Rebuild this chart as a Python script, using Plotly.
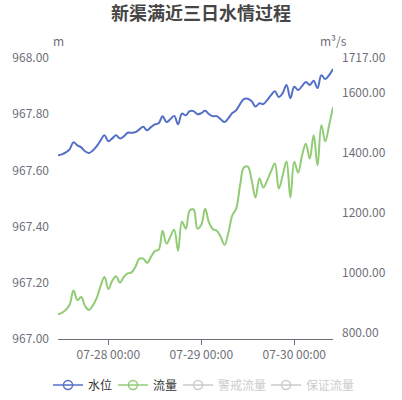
import pandas as pd
import plotly.graph_objects as go

# hourly readings, 07-27 11:00 .. 07-30 10:00
times = pd.date_range("2024-07-27 11:00", periods=72, freq="h")

water_level = [
    967.654, 967.657, 967.664, 967.675, 967.700, 967.689, 967.682, 967.668,
    967.662, 967.671, 967.686, 967.707, 967.725, 967.704, 967.714, 967.725,
    967.714, 967.721, 967.734, 967.734, 967.736, 967.746, 967.755, 967.743,
    967.754, 967.764, 967.768, 967.793, 967.772, 967.782, 967.794, 967.764,
    967.802, 967.796, 967.811, 967.811, 967.800, 967.804, 967.812, 967.800,
    967.793, 967.793, 967.782, 967.772, 967.786, 967.804, 967.814, 967.836,
    967.854, 967.855, 967.846, 967.827, 967.839, 967.836, 967.850, 967.868,
    967.882, 967.861, 967.875, 967.904, 967.857, 967.898, 967.886, 967.900,
    967.915, 967.904, 967.919, 967.893, 967.939, 967.925, 967.939, 967.961,
]

flow = [
    862, 867, 877, 894, 942, 910, 920, 890,
    877, 892, 917, 957, 987, 947, 974, 989,
    968, 987, 999, 1002, 1021, 1048, 1048, 1034,
    1054, 1073, 1078, 1141, 1098, 1121, 1144, 1074,
    1171, 1148, 1208, 1212, 1148, 1161, 1214, 1168,
    1146, 1141, 1121, 1094, 1135, 1192, 1215, 1292,
    1352, 1355, 1309, 1252, 1315, 1285, 1309, 1339,
    1365, 1282, 1325, 1372, 1252, 1371, 1335, 1392,
    1431, 1382, 1459, 1359, 1493, 1439, 1493, 1553,
]

level_ticks = [967.0, 967.2, 967.4, 967.6, 967.8, 968.0]
flow_ticks = [800, 1000, 1200, 1400, 1600, 1717]
day_ticks = ["2024-07-28 00:00", "2024-07-29 00:00", "2024-07-30 00:00"]
day_labels = ["07-28 00:00", "07-29 00:00", "07-30 00:00"]

BLUE = '#5470c6'
GREEN = '#91cc75'
AXIS_GREY = '#6e7079'
FONT = 'Noto Sans CJK SC, sans-serif'

fig = go.Figure()
fig.add_trace(go.Scatter(
    x=times, y=water_level,
    mode='lines',
    line=dict(color=BLUE, width=2, shape='spline', smoothing=1.1),
    showlegend=False,
))
fig.add_trace(go.Scatter(
    x=times, y=flow,
    yaxis='y2',
    mode='lines',
    line=dict(color=GREEN, width=2, shape='spline', smoothing=1.1),
    showlegend=False,
))

# legend entries (line with hollow circle, like the original),
# one small legend per entry so the spacing can follow the original
legend_items = [
    ('水位', BLUE, True, 'legend', 48),
    ('流量', GREEN, True, 'legend2', 113),
    ("<span style='color:#999'>警戒流量</span>", '#999999', 'legendonly', 'legend3', 178),
    ("<span style='color:#999'>保证流量</span>", '#999999', 'legendonly', 'legend4', 266),
]
for name, color, vis, leg, _ in legend_items:
    fig.add_trace(go.Scatter(
        x=[None], y=[None],
        name=name,
        mode='lines+markers',
        line=dict(color=color, width=1.5),
        marker=dict(symbol='circle-open', size=9, color=color,
                    line=dict(width=1.5)),
        visible=vis,
        legend=leg,
    ))

legend_style = dict(
    orientation='h',
    xref='container', yref='container',
    xanchor='left',
    y=1 - 385 / 400, yanchor='middle',
    itemwidth=30,
    font=dict(size=12, color='#333333'),
    itemclick=False,
    itemdoubleclick=False,
    bgcolor='rgba(0,0,0,0)',
)

fig.update_layout(
    width=402,
    height=400,
    margin=dict(l=58, r=69, t=58, b=61, autoexpand=False),
    plot_bgcolor='white',
    paper_bgcolor='white',
    font=dict(family=FONT, size=12, color=AXIS_GREY),
    title=dict(
        text='<b>新渠满近三日水情过程</b>',
        x=0.5, xanchor='center',
        y=1 - 14 / 400, yanchor='middle',
        font=dict(size=18, color='#464646', family=FONT),
    ),
    xaxis=dict(
        type='date',
        range=[times[0], times[-1]],
        tickvals=day_ticks,
        ticktext=day_labels,
        showgrid=False,
        zeroline=False,
        showline=True,
        linecolor=AXIS_GREY,
        ticks='outside',
        ticklen=5,
        tickcolor=AXIS_GREY,
        tickfont=dict(size=12, color=AXIS_GREY),
    ),
    yaxis=dict(
        range=[967.0, 968.0],
        tickvals=level_ticks,
        tickformat='.2f',
        showgrid=False,
        zeroline=False,
        showline=False,
        ticklabelstandoff=8,
        tickfont=dict(size=12, color=AXIS_GREY),
    ),
    yaxis2=dict(
        overlaying='y',
        side='right',
        range=[780, 1717],
        tickvals=flow_ticks,
        tickformat='.2f',
        showgrid=False,
        zeroline=False,
        showline=False,
        ticklabelstandoff=8,
        tickfont=dict(size=12, color=AXIS_GREY),
    ),
    showlegend=True,
)
for _, _, _, leg, left in legend_items:
    fig.update_layout({leg: dict(legend_style, x=left / 402)})

fig.add_annotation(
    text='m', xref='paper', yref='paper',
    x=0, y=1.064, xanchor='center', yanchor='middle',
    showarrow=False, font=dict(size=12, color=AXIS_GREY),
)
fig.add_annotation(
    text='m³/s', xref='paper', yref='paper',
    x=1, y=1.064, xanchor='center', yanchor='middle',
    showarrow=False, font=dict(size=12, color=AXIS_GREY),
)

# drop the browser's default body margin so the figure sits at the window corner
fig.write_html(
    "out.html",
    config={'displayModeBar': False},
    post_script="document.body.style.margin='0';",
)
